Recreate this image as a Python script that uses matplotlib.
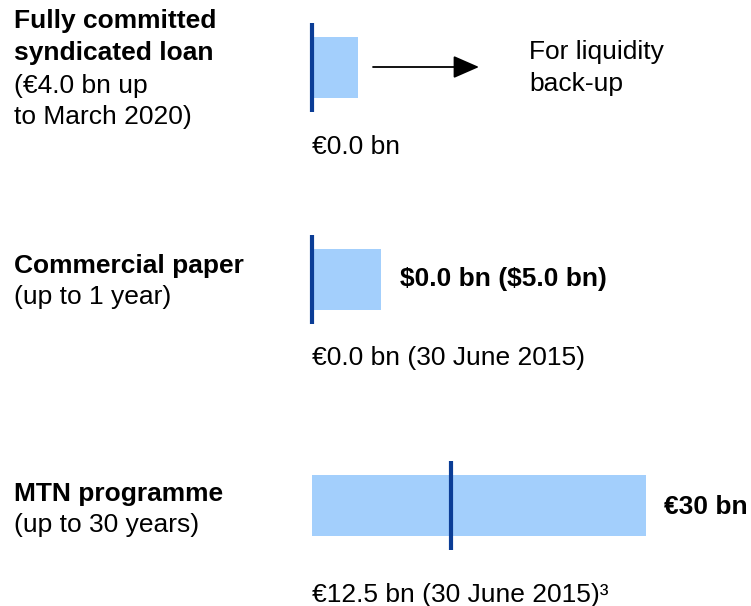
import matplotlib
matplotlib.use("Agg")
import matplotlib.pyplot as plt

plt.rcParams['font.family'] = ['Liberation Sans', 'DejaVu Sans']
plt.rcParams['text.parse_math'] = False

# Data
facilities = ["Fully committed syndicated loan", "Commercial paper", "MTN programme"]
facility_size_bn = [4.1, 6.2, 30.0]      # bar lengths as drawn (EUR bn scale)
utilised_bn = [0.0, 0.0, 12.5]            # drawn as dark marker
title_lines = [["Fully committed", "syndicated loan"], ["Commercial paper"], ["MTN programme"]]
sub_lines = [["(€4.0 bn up", "to March 2020)"], ["(up to 1 year)"], ["(up to 30 years)"]]
size_labels = ["", "$0.0 bn ($5.0 bn)", "€30 bn"]
usage_labels = ["€0.0 bn", "€0.0 bn (30 June 2015)", "€12.5 bn (30 June 2015)³"]
side_note = ["For liquidity", "back-up"]

W, H = 751, 606
fig = plt.figure(figsize=(W / 100, H / 100), dpi=100)
ax = fig.add_axes([0, 0, 1, 1])
ax.set_axis_off()

# layout in pixels
x0_px, x30_px = 312, 646
ppu = (x30_px - x0_px) / 30.0
ax.set_xlim(-x0_px / ppu, (W - x0_px) / ppu)
ax.set_ylim(H, 0)
row_y = [67.5, 279, 505.5]
bar_h = 61
line_ext = 14

bar_color = "#a3cffc"
mark_color = "#0b3d96"

ax.barh(row_y, facility_size_bn, left=0, height=bar_h, color=bar_color, edgecolor="none")
for y, u in zip(row_y, utilised_bn):
    ax.plot([u, u], [y - bar_h / 2 - line_ext, y + bar_h / 2 + line_ext],
            color=mark_color, lw=3.0, solid_capstyle="butt")

def ftext(x, y, s, **kw):
    fig.text(x / W, 1 - y / H, s, **kw)

fs = 19
# left labels
title_y = [[21, 53], [266], [494]]
sub_y = [[86, 117], [297], [525]]
for i in range(3):
    for t, y in zip(title_lines[i], title_y[i]):
        ftext(14, y, t, fontsize=fs, fontweight="bold", va="center", ha="left")
    for t, y in zip(sub_lines[i], sub_y[i]):
        ftext(14, y, t, fontsize=fs, va="center", ha="left")

# size labels
ftext(400, 279, size_labels[1], fontsize=fs, fontweight="bold", va="center", ha="left")
ftext(664, 507, size_labels[2], fontsize=fs, fontweight="bold", va="center", ha="left")

# usage labels
usage_y = [147, 358, 595]
for t, y in zip(usage_labels, usage_y):
    ftext(312, y, t, fontsize=fs, va="center", ha="left")

# arrow and note
fig.add_artist(matplotlib.patches.FancyArrowPatch(
    (373 / W, 1 - 67 / H), (479 / W, 1 - 67 / H), transform=fig.transFigure,
    arrowstyle="-|>,head_length=0.8,head_width=0.35", mutation_scale=20,
    color="black", lw=1.3, shrinkA=0, shrinkB=0))
for t, y in zip(side_note, [52, 84]):
    ftext(529, y, t, fontsize=fs, va="center", ha="left")

fig.savefig("out.png", dpi=100)
